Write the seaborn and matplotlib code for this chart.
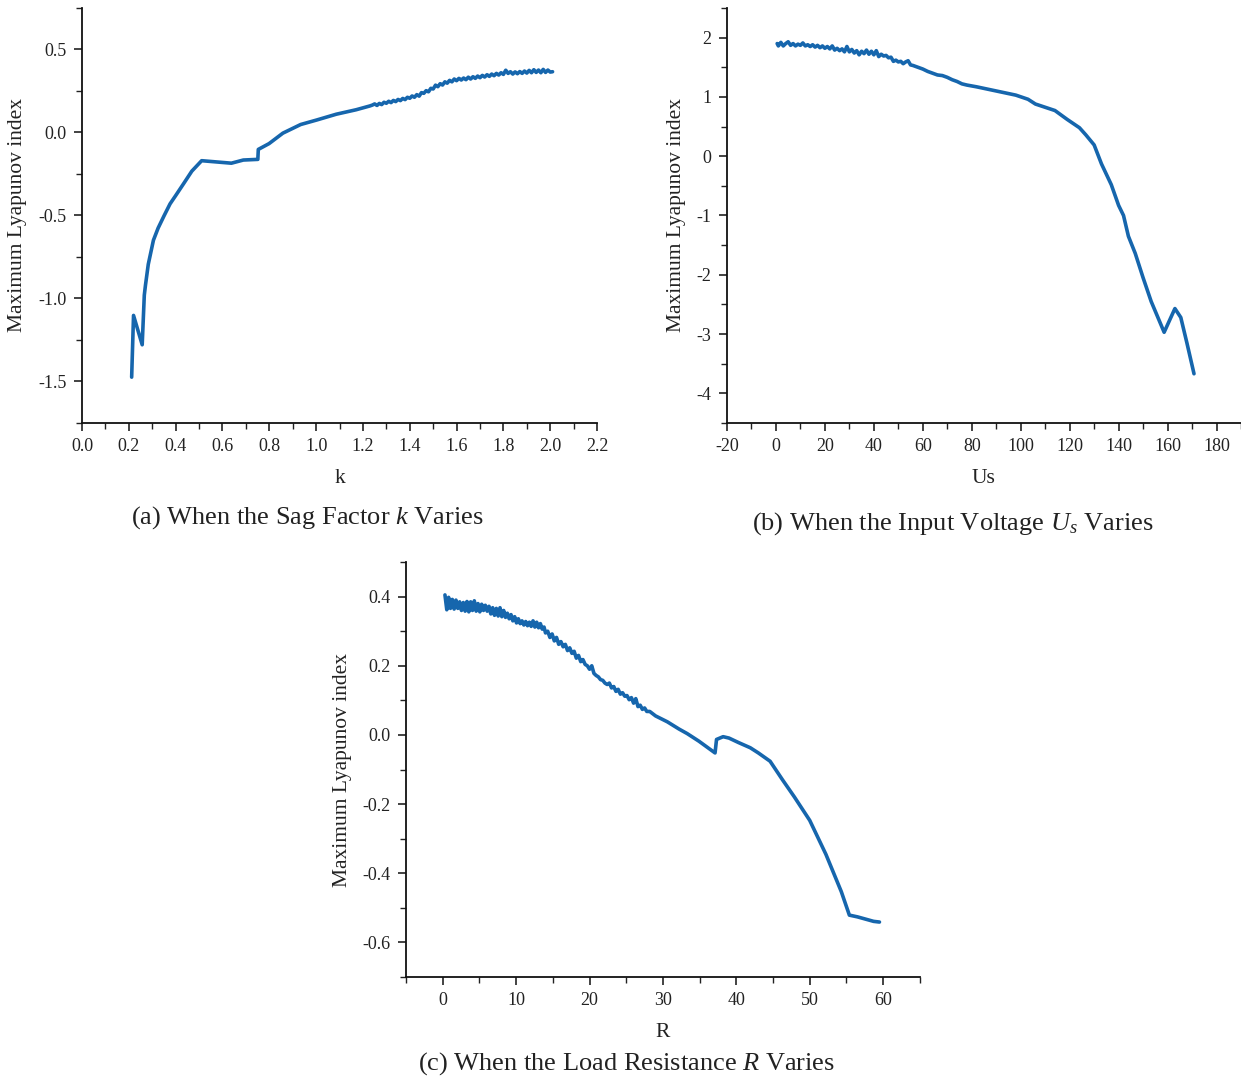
import numpy as np
import pandas as pd
import matplotlib
matplotlib.use("Agg")
import matplotlib.pyplot as plt
import seaborn as sns
from matplotlib.ticker import MultipleLocator, FuncFormatter

# ---------------- data ----------------
# (a) sag factor k
k_vals = [0.212, 0.220, 0.257, 0.266, 0.271, 0.283, 0.305, 0.325, 0.350, 0.376, 0.401,
          0.435, 0.469, 0.511, 0.638, 0.689, 0.751, 0.753, 0.799, 0.858, 0.934, 1.002,
          1.086, 1.171, 1.230,
          1.24, 1.25, 1.26, 1.27, 1.28, 1.29, 1.30, 1.31, 1.32, 1.33, 1.34, 1.35, 1.36, 1.37,
          1.38, 1.39, 1.40, 1.41, 1.42, 1.43, 1.44, 1.45, 1.46, 1.47, 1.48, 1.49, 1.50, 1.51,
          1.52, 1.53, 1.54, 1.55, 1.56, 1.57, 1.58, 1.59, 1.60, 1.61, 1.62, 1.63, 1.64, 1.65,
          1.66, 1.67, 1.68, 1.69, 1.70, 1.71, 1.72, 1.73, 1.74, 1.75, 1.76, 1.77, 1.78, 1.79,
          1.80, 1.81, 1.82, 1.83, 1.84, 1.85, 1.86, 1.87, 1.88, 1.89, 1.90, 1.91, 1.92, 1.93,
          1.94, 1.95, 1.96, 1.97, 1.98, 1.99, 2.00, 2.01]
lyap_k = [-1.474, -1.102, -1.279, -0.980, -0.920, -0.794, -0.649, -0.576, -0.503, -0.430, -0.378,
          -0.306, -0.233, -0.170, -0.185, -0.166, -0.162, -0.102, -0.067, -0.004, 0.048, 0.075,
          0.110, 0.137, 0.160,
          0.165, 0.172, 0.163, 0.175, 0.168, 0.182, 0.176, 0.188, 0.180, 0.193, 0.186, 0.199, 0.192, 0.205,
          0.198, 0.212, 0.206, 0.220, 0.212, 0.228, 0.219, 0.240, 0.236, 0.252, 0.245, 0.266, 0.262, 0.285,
          0.276, 0.294, 0.286, 0.305, 0.297, 0.314, 0.305, 0.322, 0.312, 0.326, 0.316, 0.328, 0.318, 0.333,
          0.322, 0.336, 0.326, 0.340, 0.330, 0.344, 0.334, 0.348, 0.338, 0.352, 0.342, 0.356, 0.346, 0.360,
          0.350, 0.375, 0.356, 0.366, 0.352, 0.365, 0.354, 0.367, 0.356, 0.370, 0.358, 0.374, 0.360, 0.378,
          0.362, 0.376, 0.360, 0.380, 0.362, 0.376, 0.364, 0.366]

# (b) input voltage Us
us_vals = [0.5, 1, 2, 3, 4, 5, 6, 7, 8, 9, 10, 11, 12, 13, 14, 15, 16, 17, 18, 19, 20, 21, 22,
           23, 24, 25, 26, 27, 28, 29, 30, 31, 32, 33, 34, 35, 36, 37, 38, 39, 40, 41, 42, 43,
           44, 45, 46, 47, 48, 49, 50, 51, 52, 53, 54, 55, 56, 58, 60, 62, 64, 66, 68, 70, 72,
           74, 76, 78, 82, 90, 98, 103, 106, 114, 119, 124, 126.6, 130, 133, 137, 140, 142, 144,
           146.8, 150, 153.3, 158.6, 163, 165.4, 167.9, 170.8]
lyap_us = [1.90, 1.86, 1.92, 1.86, 1.90, 1.93, 1.87, 1.90, 1.86, 1.89, 1.87, 1.91, 1.86, 1.88,
           1.85, 1.88, 1.84, 1.87, 1.83, 1.86, 1.82, 1.85, 1.81, 1.86, 1.79, 1.82, 1.78, 1.81,
           1.76, 1.85, 1.76, 1.80, 1.74, 1.78, 1.71, 1.77, 1.73, 1.79, 1.72, 1.77, 1.71, 1.78,
           1.68, 1.72, 1.69, 1.70, 1.66, 1.67, 1.60, 1.62, 1.59, 1.60, 1.56, 1.59, 1.61, 1.54,
           1.53, 1.50, 1.47, 1.43, 1.40, 1.37, 1.36, 1.33, 1.29, 1.26, 1.22, 1.20, 1.17, 1.10,
           1.03, 0.96, 0.88, 0.77, 0.62, 0.48, 0.36, 0.19, -0.13, -0.48, -0.83, -1.00, -1.35,
           -1.64, -2.05, -2.45, -2.97, -2.57, -2.72, -3.15, -3.67]

# (c) load resistance R
r_vals = [0.3, 0.55, 0.8, 1.05, 1.3, 1.55, 1.8, 2.05, 2.3, 2.55, 2.8, 3.05, 3.3, 3.55, 3.8,
          4.05, 4.3, 4.55, 4.8, 5.05, 5.3, 5.55, 5.8, 6.05, 6.3, 6.55, 6.8, 7.05, 7.3, 7.55,
          7.8, 8.05, 8.3, 8.55, 8.8, 9.05, 9.3, 9.55, 9.8, 10.05, 10.3, 10.55, 10.8, 11.05,
          11.3, 11.55, 11.8, 12.05, 12.3, 12.55, 12.8, 13.05, 13.3, 13.55, 13.8, 14.0,
          14.3, 14.6, 14.9, 15.2, 15.5, 15.8, 16.1, 16.4, 16.7, 17.0, 17.3, 17.6, 17.9, 18.2,
          18.5, 18.8, 19.1, 19.4, 19.7, 20.0, 20.3, 20.6, 20.9, 21.2, 21.5, 21.8, 22.1, 22.4,
          22.7, 23.0, 23.3, 23.6, 23.9, 24.2, 24.5, 24.8, 25.1, 25.4, 25.7, 26.0, 26.3, 26.6,
          26.9, 27.2, 27.5, 27.8, 28.2, 29.0, 30.6, 32.2, 33.3, 34.9, 37.1, 37.3, 38.2, 39.0,
          40.3, 41.9, 43.0, 44.6, 46.3, 47.9, 50.0, 52.2, 54.3, 55.4, 56.5, 58.7, 59.5]
lyap_r = [0.405, 0.362, 0.398, 0.366, 0.392, 0.364, 0.390, 0.366, 0.385, 0.360, 0.383, 0.358,
          0.386, 0.356, 0.385, 0.360, 0.388, 0.358, 0.380, 0.356, 0.378, 0.360, 0.375, 0.358,
          0.372, 0.350, 0.368, 0.346, 0.366, 0.344, 0.368, 0.342, 0.360, 0.340, 0.352, 0.336,
          0.348, 0.330, 0.342, 0.324, 0.336, 0.322, 0.330, 0.318, 0.328, 0.316, 0.326, 0.314,
          0.330, 0.312, 0.326, 0.310, 0.322, 0.306, 0.312, 0.295,
          0.300, 0.282, 0.292, 0.272, 0.282, 0.262, 0.270, 0.255, 0.262, 0.244, 0.252, 0.236,
          0.242, 0.222, 0.230, 0.212, 0.218, 0.204, 0.200, 0.190, 0.200, 0.178, 0.172, 0.168,
          0.160, 0.158, 0.150, 0.146, 0.150, 0.136, 0.140, 0.126, 0.132, 0.118, 0.122, 0.112,
          0.114, 0.102, 0.108, 0.092, 0.105, 0.082, 0.086, 0.074, 0.078, 0.068, 0.068, 0.055,
          0.038, 0.017, 0.004, -0.018, -0.052, -0.013, -0.005, -0.009, -0.022, -0.037, -0.052,
          -0.076, -0.130, -0.179, -0.247, -0.345, -0.453, -0.521, -0.526, -0.539, -0.541]

# ---------------- style ----------------
sns.set_style("ticks")
plt.rcParams["font.family"] = ["Liberation Serif", "DejaVu Serif"]
plt.rcParams["axes.unicode_minus"] = False
plt.rcParams["mathtext.fontset"] = "custom"
plt.rcParams["mathtext.rm"] = "Liberation Serif"
plt.rcParams["mathtext.it"] = "Liberation Serif:italic"

LINE = "#1666ad"
TXT = "#222222"

fig = plt.figure(figsize=(12.41, 10.79), dpi=100)
ax_a = fig.add_axes([0.0661, 0.608, 0.415, 0.3846])
ax_b = fig.add_axes([0.5858, 0.608, 0.4142, 0.3846])
ax_c = fig.add_axes([0.3272, 0.0945, 0.414, 0.3846])

panels = [
    (ax_a, k_vals, lyap_k, "k", (0, 2.2), (-1.75, 0.75), 0.2, 0.1, 0.5, 0.25, "{:.1f}", "{:.1f}"),
    (ax_b, us_vals, lyap_us, "Us", (-20, 190), (-4.5, 2.5), 20, 10, 1, 0.5, "{:.0f}", "{:.0f}"),
    (ax_c, r_vals, lyap_r, "R", (-5, 65), (-0.7, 0.5), 10, 5, 0.2, 0.1, "{:.0f}", "{:.1f}"),
]

for ax, xs, ys, xl, xlim, ylim, xmaj, xmin, ymaj, ymin, xfmt, yfmt in panels:
    df = pd.DataFrame({"x": xs, "y": ys})
    sns.lineplot(data=df, x="x", y="y", ax=ax, color=LINE, linewidth=2.6,
                 estimator=None, sort=False)
    ax.set_xlim(*xlim)
    ax.set_ylim(*ylim)
    ax.xaxis.set_major_locator(MultipleLocator(xmaj))
    ax.xaxis.set_minor_locator(MultipleLocator(xmin))
    ax.yaxis.set_major_locator(MultipleLocator(ymaj))
    ax.yaxis.set_minor_locator(MultipleLocator(ymin))
    ax.xaxis.set_major_formatter(FuncFormatter(lambda v, p, f=xfmt: f.format(0.0) if abs(v) < 1e-9 else f.format(v)))
    ax.yaxis.set_major_formatter(FuncFormatter(lambda v, p, f=yfmt: f.format(0.0) if abs(v) < 1e-9 else f.format(v)))
    ax.set_xlabel(xl, fontsize=15.5, color=TXT, labelpad=10)
    ax.set_ylabel("Maximum Lyapunov index", fontsize=15.5, color=TXT, labelpad=8)
    ax.tick_params(axis="both", which="major", direction="out", length=6, width=1.2,
                   labelsize=13, colors=TXT, pad=5)
    ax.tick_params(axis="both", which="minor", direction="out", length=4, width=1.0, colors=TXT)
    sns.despine(ax=ax)
    for s in ("left", "bottom"):
        ax.spines[s].set_linewidth(1.3)
        ax.spines[s].set_color("#111111")

fig.text(0.248, 0.52, "(a) When the Sag Factor $k$ Varies", ha="center", va="center",
         fontsize=19, color=TXT)
fig.text(0.768, 0.515, "(b) When the Input Voltage $U_s$ Varies", ha="center", va="center",
         fontsize=19, color=TXT)
fig.text(0.505, 0.014, "(c) When the Load Resistance $R$ Varies", ha="center", va="center",
         fontsize=19, color=TXT)

fig.savefig("out.png", dpi=100)
